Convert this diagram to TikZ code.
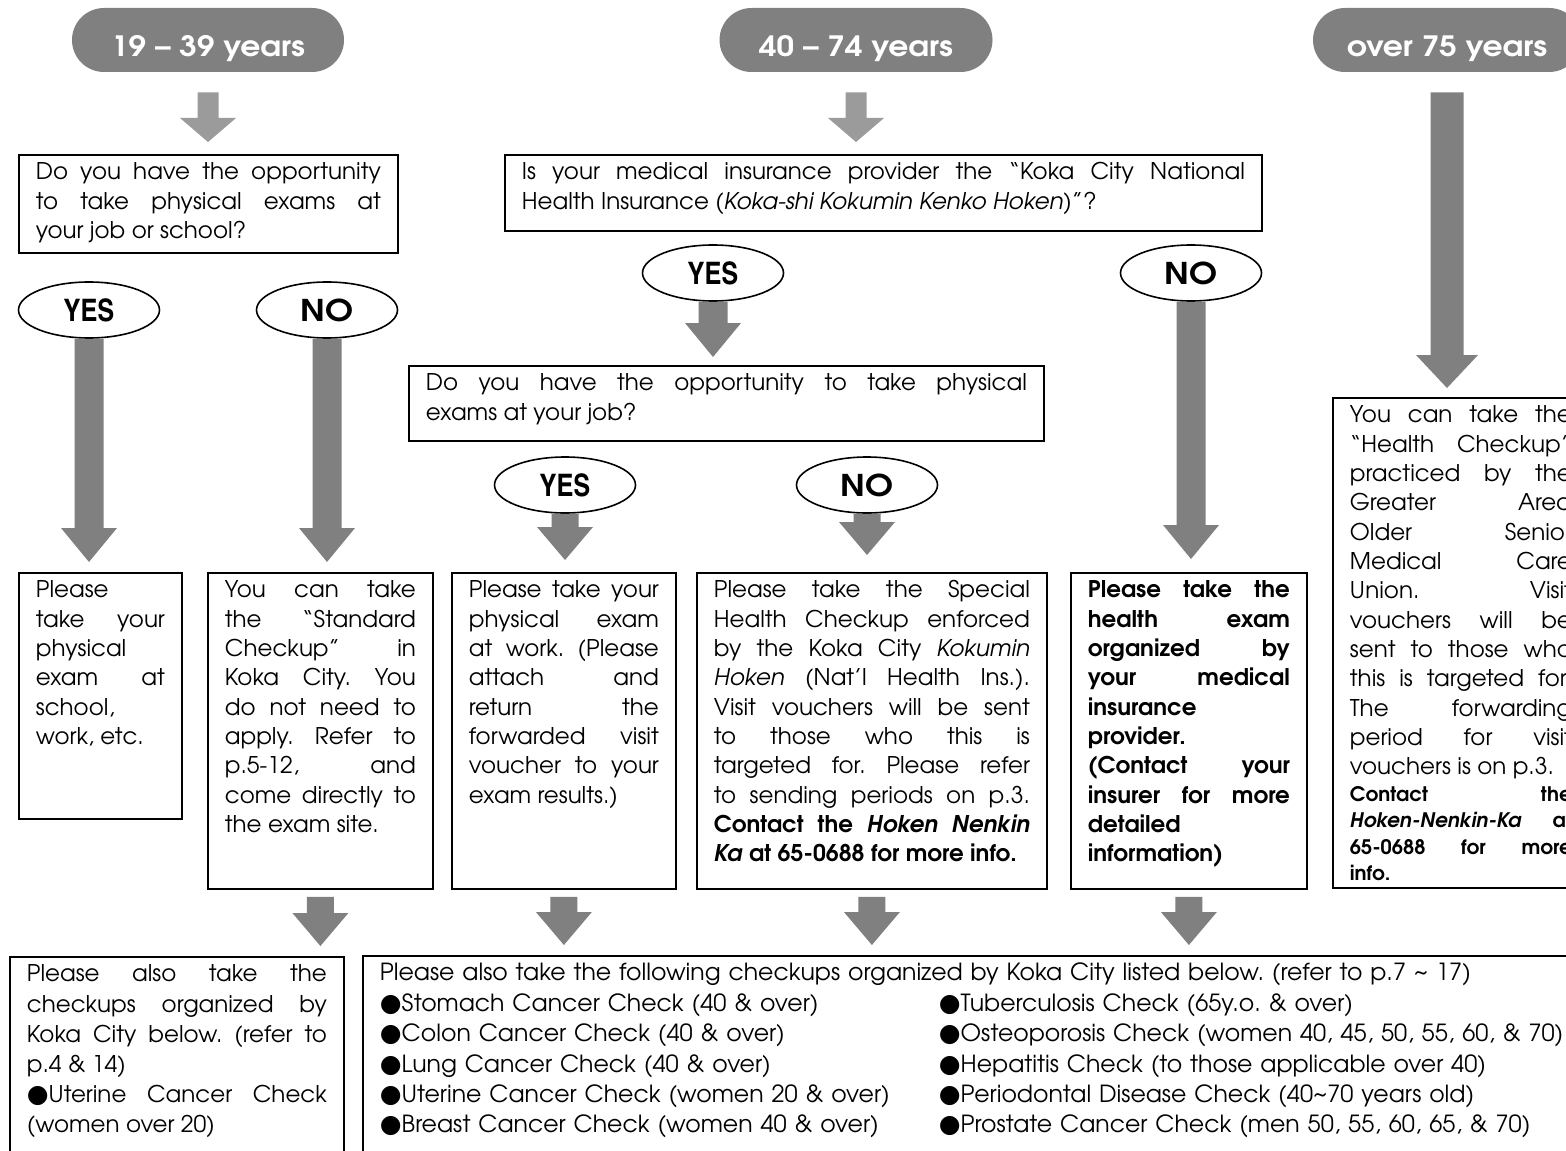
\documentclass[tikz,border=0pt]{standalone}
\usepackage{fontspec}
\setmainfont{texgyreadventor}[Extension=.otf,UprightFont=*-regular,BoldFont=*-bold,ItalicFont=*-italic,BoldItalicFont=*-bolditalic]
\newfontfamily\cnfont{texgyreheroscn}[Extension=.otf,UprightFont=*-bold,BoldFont=*-bold]
\newfontfamily\wbfont{texgyreadventor}[Extension=.otf,UprightFont=*-bold,BoldFont=*-bold,FakeStretch=1.12]
\newfontfamily\symfont{DejaVu Sans}
\usetikzlibrary{shapes.geometric,calc}
\definecolor{pillgray}{RGB}{128,128,128}
\definecolor{palegray}{RGB}{155,155,155}
\newcommand{\blt}{{\symfont\fontsize{12.5}{12}\selectfont ●}}
\tolerance=10000
\hyphenpenalty=10000
\frenchspacing

\begin{document}
\begin{tikzpicture}[x=0.5pt,y=-0.5pt,
  fatarrow/.style n args={3}{fill=pillgray,to path={let \p1=(\tikztostart),\p2=(\tikztotarget) in
    (\x1-#1,\y1) -- (\x1+#1,\y1) -- (\x1+#1,\y2+#3) -- (\x1+#2,\y2+#3) -- (\x1,\y2)
    -- (\x1-#2,\y2+#3) -- (\x1-#1,\y2+#3) -- cycle}},
  bigarrow/.style={fatarrow={7.25pt}{14pt}{17pt}},
  midarrow/.style={fatarrow={6.75pt}{14pt}{16.5pt}},
  widearrow/.style={fatarrow={8.25pt}{15.5pt}{16.5pt}},
  toparrow/.style={fatarrow={5.25pt}{14pt}{12pt},fill=palegray},
  pill/.style={fill=pillgray,text=white,rounded corners=16pt,minimum height=32pt,text height=17pt,text depth=0pt,font=\wbfont\fontsize{14}{16}\selectfont},
  choice/.style={ellipse,draw,line width=0.8pt,fill=white,minimum width=70.5pt,minimum height=28pt,inner sep=0pt,font=\wbfont\fontsize{15}{16}\selectfont},
  box/.style={draw,line width=0.9pt,anchor=north west,align=justify,inner xsep=8.5pt,inner ysep=3.5pt,text height=9pt,font=\fontsize{11.5}{14.67}\selectfont}]
\useasboundingbox (0,0) rectangle (1566,1150);

\node[pill,minimum width=136pt] (p1) at (208,40) {19 – 39 years};
\node[pill,minimum width=136.5pt] (p2) at (856,40) {40 – 74 years};
\node[pill,minimum width=134pt] (p3) at (1447,40) {over 75 years};

\node[box,text width=172.5pt,text depth=33pt] (q1) at (18,154) {Do you have the opportunity\linebreak to take physical exams at\linebreak your job or school?};
\node[box,text width=361.5pt,text depth=22pt] (q2) at (504,154) {Is your medical insurance provider the “Koka City National\linebreak Health Insurance (\textit{Koka-shi Kokumin Kenko Hoken)}”?};
\node[box,text width=300.5pt,text depth=21.5pt] (q3) at (408,365) {Do you have the opportunity to take physical\linebreak exams at your job?};

\node[choice] (yes1) at (89,310) {\cnfont\fontsize{15.5}{16}\selectfont YES};
\node[choice] (no1) at (327,310) {NO};
\node[choice] (yes2) at (713,273) {\cnfont\fontsize{15.5}{16}\selectfont YES};
\node[choice] (no2) at (1191,273) {NO};
\node[choice] (yes3) at (565,485) {\cnfont\fontsize{15.5}{16}\selectfont YES};
\node[choice] (no3) at (867,485) {NO};

\node[box,text width=64.5pt,text depth=107pt] (a1) at (18,572) {Please\linebreak take your\linebreak physical\linebreak exam at\linebreak school,\linebreak work, etc.};
\node[box,text width=95.5pt,text depth=142pt] (a2) at (207,572) {You can take\linebreak the “Standard\linebreak Checkup” in\linebreak Koka City. You\linebreak do not need to\linebreak apply. Refer to\linebreak p.5-12, and\linebreak come directly to\linebreak the exam site.};
\node[box,text width=95pt,text depth=142pt] (a3) at (451,572) {Please take your\linebreak physical exam\linebreak at work. (Please\linebreak attach and\linebreak return the\linebreak forwarded visit\linebreak voucher to your\linebreak exam results.)};
\node[box,text width=158pt,text depth=142pt] (a4) at (696,572) {Please take the Special\linebreak Health Checkup enforced\linebreak by the Koka City \textit{Kokumin}\linebreak \textit{Hoken} (Nat’l Health Ins.).\linebreak Visit vouchers will be sent\linebreak to those who this is\linebreak targeted for. Please refer\linebreak to sending periods on p.3.\linebreak \textbf{Contact the \textit{Hoken Nenkin}\linebreak \textit{Ka} at 65-0688 for more info.}};
\node[box,text width=101pt,text depth=142pt,font=\fontsize{11.5}{14.67}\selectfont\bfseries] (a5) at (1070,572) {Please take the\linebreak health exam\linebreak organized by\linebreak your medical\linebreak insurance\linebreak provider.\linebreak (Contact your\linebreak insurer for more\linebreak detailed\linebreak information)};
\node[box,text width=111pt,text depth=229pt] (a6) at (1332,397) {You can take the\linebreak “Health Checkup”\linebreak practiced by the\linebreak Greater Area\linebreak Older Senior\linebreak Medical Care\linebreak Union. Visit\linebreak vouchers will be\linebreak sent to those who\linebreak this is targeted for.\linebreak The forwarding\linebreak period for visit\linebreak vouchers is on p.3.\par
{\fontsize{10}{13.2}\selectfont\bfseries Contact the\linebreak \textit{Hoken-Nenkin-Ka} at\linebreak 65-0688 for more\linebreak info.\par}};

\node[box,text width=150pt,text depth=94pt,font=\fontsize{11.5}{15.1}\selectfont] (b1) at (9,956) {Please also take the\linebreak checkups organized by\linebreak Koka City below. (refer to\linebreak p.4 \& 14)\\ \blt Uterine Cancer Check\linebreak (women over 20)};
\node[box,align=left,text width=602pt,text depth=94pt,font=\fontsize{11.8}{15.2}\selectfont] (b2) at (362,955) {Please also take the following checkups organized by Koka City listed below. (refer to p.7 \textasciitilde{} 17)\\
\begin{tabular}[t]{@{}p{279.5pt}@{}l@{}}
\blt Stomach Cancer Check (40 \& over) & \blt Tuberculosis Check (65y.o. \& over)\\
\blt Colon Cancer Check (40 \& over) & \blt Osteoporosis Check (women 40, 45, 50, 55, 60, \& 70)\\
\blt Lung Cancer Check (40 \& over) & \blt Hepatitis Check (to those applicable over 40)\\
\blt Uterine Cancer Check (women 20 \& over) & \blt Periodontal Disease Check (40\textasciitilde70 years old)\\
\blt Breast Cancer Check (women 40 \& over) & \blt Prostate Cancer Check (men 50, 55, 60, 65, \& 70)
\end{tabular}};

\path[toparrow] ([yshift=-10pt]p1.south) to ([yshift=6pt]q1.north);
\path[toparrow] ([yshift=-10pt]p2.south) to ([yshift=6pt]q2.north);
\path[widearrow] ([yshift=-10pt]p3.south) to ([yshift=4.5pt]a6.north);

\path[bigarrow] (yes1.south) to ([yshift=5pt]a1.north);
\path[bigarrow] (no1.south) to ([yshift=5pt]a2.north);
\path[bigarrow] (yes2.south) to ([yshift=4pt]q3.north);
\path[bigarrow] (no2.south) to ([yshift=6.5pt]a5.north);
\path[midarrow] (yes3.south) to ([yshift=6pt]a3.north);
\path[midarrow] (no3.south) to ([yshift=8.5pt]a4.north);

\path[midarrow] ([yshift=-3.5pt]a2.south) to ([yshift=5pt]b1.north);
\path[midarrow] ([yshift=-3.5pt]a3.south) to ([yshift=5pt]b2.north);
\path[midarrow] ([yshift=-3.5pt]a4.south) to ([yshift=5pt]b2.north);
\path[midarrow] ([yshift=-3.5pt]a5.south) to ([yshift=5pt]b2.north);
\end{tikzpicture}
\end{document}
